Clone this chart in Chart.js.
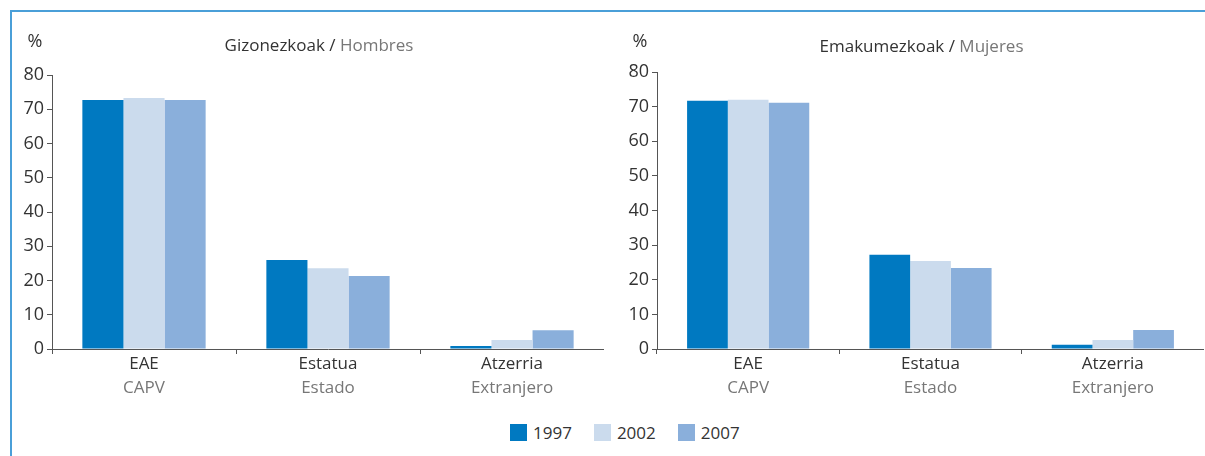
<!DOCTYPE html>
<html>
<head>
<meta charset="utf-8">
<script src="https://cdn.jsdelivr.net/npm/chart.js@4/dist/chart.umd.min.js"></script>
<style>
  body { margin: 0; background: #fff; font-family: "Open Sans", sans-serif; }
  #frame { position: absolute; left: 10px; top: 10px; width: 1195px; height: 446px;
           border-top: 2px solid #4a9fd8; border-left: 2px solid #4a9fd8; }
  .box { position: absolute; top: 0; height: 399px; }
  #left { left: 12px; width: 592px; }
  #right { left: 617px; width: 587px; }
  #legend { position: absolute; top: 421px; left: 510px; display: flex; font-size: 17px; color: #333; }
  #legend span.item { display: flex; align-items: center; margin-right: 22px; }
  #legend span.sw { width: 17px; height: 17px; margin-right: 6px; display: inline-block; }
</style>
</head>
<body>
<div id="frame"></div>
<div class="box" id="left"><canvas id="menChart"></canvas></div>
<div class="box" id="right"><canvas id="womenChart"></canvas></div>
<div id="legend"></div>
<script>
// categories (Basque / Spanish)
const categoriesEu = ['EAE', 'Estatua', 'Atzerria'];
const categoriesEs = ['CAPV', 'Estado', 'Extranjero'];
const years = ['1997', '2002', '2007'];
const colors = ['#0079c1', '#cbdbed', '#8aafdb'];

// Gizonezkoak / Hombres (%)
const men1997 = [72.7, 26.0, 0.9];
const men2002 = [73.3, 23.6, 2.6];
const men2007 = [72.7, 21.3, 5.5];

// Emakumezkoak / Mujeres (%)
const women1997 = [71.7, 27.2, 1.2];
const women2002 = [72.0, 25.4, 2.6];
const women2007 = [71.1, 23.4, 5.5];

const yMin = 0, yMax = 80, yStep = 10;

const FONT = '"Open Sans", sans-serif';

// draws "%" and the two-colour title above the plot
const headings = {
    id: 'headings',
    afterDraw(chart, args, opts) {
        const { ctx, chartArea } = chart;
        ctx.save();
        ctx.textBaseline = 'middle';
        ctx.textAlign = 'center';
        ctx.fillStyle = '#333';
        ctx.font = '18px ' + FONT;
        ctx.fillText('%', chartArea.left - 17, 42);
        ctx.font = '17px ' + FONT;
        const a = opts.main + ' / ';
        const b = opts.sub;
        const wa = ctx.measureText(a).width;
        const wb = ctx.measureText(b).width;
        const x = (chartArea.left + chartArea.right) / 2 - 9 - (wa + wb) / 2;
        ctx.textAlign = 'left';
        ctx.fillText(a, x, opts.y);
        ctx.fillStyle = '#777';
        ctx.fillText(b, x + wa, opts.y);
        ctx.restore();
    }
};

function makeChart(id, series, main, sub, top, titleY) {
    new Chart(document.getElementById(id), {
        type: 'bar',
        data: {
            labels: categoriesEu,
            datasets: series.map((d, i) => ({
                label: years[i],
                data: d,
                backgroundColor: colors[i],
                borderWidth: 0,
                barPercentage: 1,
                categoryPercentage: 0.67
            }))
        },
        options: {
            responsive: true,
            maintainAspectRatio: false,
            animation: false,
            layout: { padding: { top: top, left: 0, right: 0, bottom: 0 } },
            plugins: {
                legend: { display: false },
                tooltip: { enabled: false },
                headings: { main: main, sub: sub, y: titleY }
            },
            scales: {
                x: {
                    offset: true,
                    grid: { offset: true, drawOnChartArea: false, tickLength: 5, color: '#555' },
                    border: { color: '#555', width: 1 },
                    ticks: { color: '#333', font: { family: FONT, size: 17 }, padding: 0 },
                    afterFit(s) { s.height = 21; }
                },
                x2: {
                    type: 'category',
                    labels: categoriesEs,
                    position: 'bottom',
                    offset: true,
                    grid: { display: false },
                    border: { display: false },
                    ticks: { color: '#777', font: { family: FONT, size: 17 }, padding: 0 },
                    afterFit(s) { s.height = 29; }
                },
                y: {
                    min: yMin,
                    max: yMax,
                    grid: { drawOnChartArea: false, tickLength: 5, color: '#555' },
                    border: { color: '#555', width: 1 },
                    ticks: { stepSize: yStep, color: '#333', font: { family: FONT, size: 18 }, padding: 3 },
                    afterFit(s) { s.width = 40; }
                }
            }
        },
        plugins: [headings]
    });
}

makeChart('menChart', [men1997, men2002, men2007], 'Gizonezkoak', 'Hombres', 75, 46);
makeChart('womenChart', [women1997, women2002, women2007], 'Emakumezkoak', 'Mujeres', 72, 47);

// legend shared by both charts
const legend = document.getElementById('legend');
years.forEach((y, i) => {
    const item = document.createElement('span');
    item.className = 'item';
    const sw = document.createElement('span');
    sw.className = 'sw';
    sw.style.background = colors[i];
    item.appendChild(sw);
    item.appendChild(document.createTextNode(y));
    legend.appendChild(item);
});
</script>
</body>
</html>
